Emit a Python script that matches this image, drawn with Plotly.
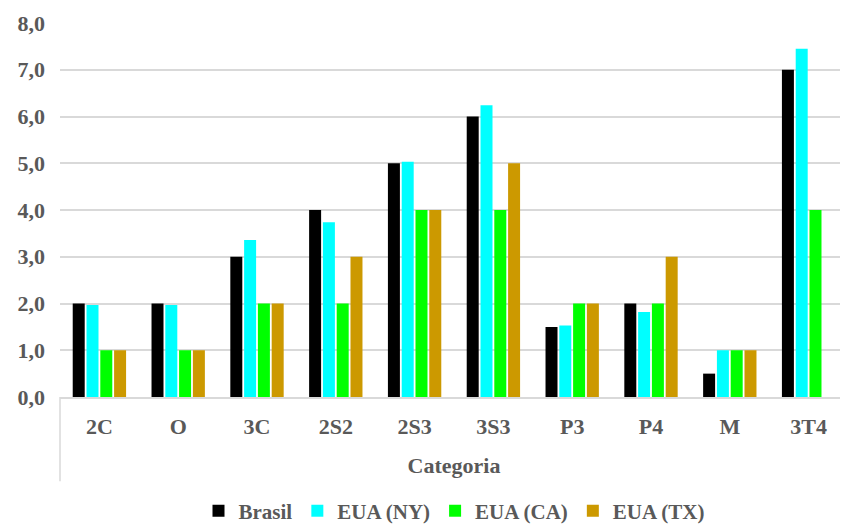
import plotly.graph_objects as go

categories = ["2C", "O", "3C", "2S2", "2S3", "3S3", "P3", "P4", "M", "3T4"]
brasil = [2.0, 2.0, 3.0, 4.0, 5.0, 6.0, 1.5, 2.0, 0.5, 7.0]
eua_ny = [1.97, 1.97, 3.36, 3.74, 5.03, 6.24, 1.53, 1.82, 1.0, 7.45]
eua_ca = [1.0, 1.0, 2.0, 2.0, 4.0, 4.0, 2.0, 2.0, 1.0, 4.0]
eua_tx = [1.0, 1.0, 2.0, 3.0, 4.0, 5.0, 2.0, 3.0, 1.0, None]
series_names = ["Brasil", "EUA (NY)", "EUA (CA)", "EUA (TX)"]
y_ticks = [0, 1, 2, 3, 4, 5, 6, 7, 8]

colors = ["#000000", "#00FFFF", "#00FF00", "#CC9900"]
font_family = "Liberation Serif, Times New Roman, serif"
text_color = "#595959"
fs = 22

fig = go.Figure()
for name, vals, col in zip(series_names, [brasil, eua_ny, eua_ca, eua_tx], colors):
    fig.add_trace(go.Bar(
        x=categories, y=vals, name=name,
        marker=dict(color=col, line=dict(width=0)),
    ))

fig.update_layout(
    width=840, height=518,
    margin=dict(l=52, r=0, t=15, b=129, autoexpand=False),
    paper_bgcolor="white", plot_bgcolor="white",
    barmode="group", bargap=0.30, bargroupgap=0.13,
    separators=",.",
    font=dict(family=font_family, size=fs, color=text_color, weight="bold"),
    showlegend=True,
    legend=dict(
        orientation="h", x=0.5, xanchor="center", y=-0.305, yanchor="middle",
        font=dict(family=font_family, size=21, color=text_color, weight="bold"),
        itemwidth=30, traceorder="normal", tracegroupgap=0,
    ),
)

fig.update_yaxes(
    range=[0, 8], tickvals=y_ticks, tickformat=".1f",
    showgrid=True, gridcolor="#d9d9d9", gridwidth=1.5,
    zeroline=False, showline=False, automargin=False,
    tickfont=dict(family=font_family, size=fs, color=text_color, weight="bold"),
    ticklabelstandoff=14,
)
fig.update_xaxes(
    showline=True, linecolor="#d9d9d9", linewidth=1.5,
    showgrid=False, ticks="", automargin=False,
    tickfont=dict(family=font_family, size=fs, color=text_color, weight="bold"),
    ticklabelstandoff=9,
    title=dict(text="Categoria", standoff=19,
               font=dict(family=font_family, size=fs, color=text_color, weight="bold")),
)

# left border of the category axis label area
fig.add_shape(type="line", xref="paper", yref="paper",
              x0=0, x1=0, y0=0, y1=-0.225,
              line=dict(color="#d9d9d9", width=1.5))

fig.write_html("out.html")
